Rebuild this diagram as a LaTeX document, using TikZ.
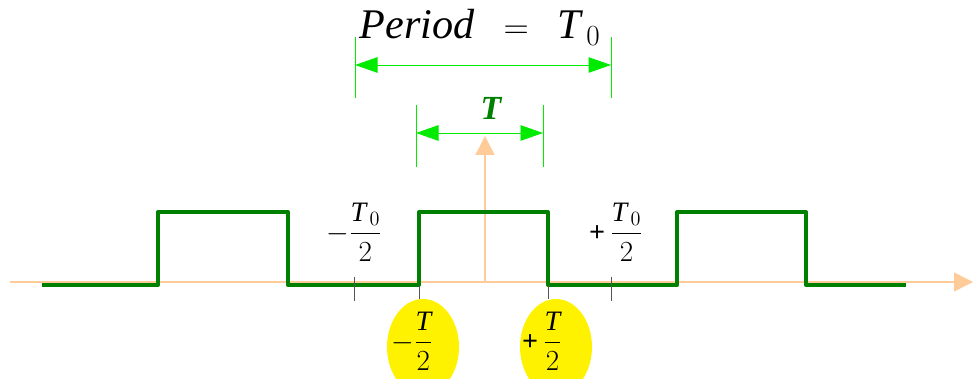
\documentclass[tikz,border=0pt]{standalone}
\usepackage{fontspec}
\setmainfont{Liberation Serif}
\usetikzlibrary{arrows.meta,positioning,shapes.geometric}

\definecolor{wavegreen}{RGB}{0,128,0}
\definecolor{dimgreen}{RGB}{0,235,0}
\definecolor{axisorange}{RGB}{255,204,153}
\definecolor{tickgray}{RGB}{85,85,85}

\tikzset{
  axis/.style={axisorange,line width=1pt,-{Triangle[length=13.5pt,width=13.5pt]}},
  dimline/.style={dimgreen,line width=0.7pt},
  dimarrow/.style={dimgreen,line width=0.7pt,
    {Triangle[length=16pt,width=11pt]}-{Triangle[length=16pt,width=11pt]}},
  tickmark/.style={tickgray,line width=0.7pt},
  wave/.style={wavegreen,line width=2.8pt,line join=round},
  halfbox/.style={ellipse,fill=yellow,minimum width=72*0.025cm,minimum height=96*0.025cm,inner sep=0pt}
}

\begin{document}
\begin{tikzpicture}[x=0.025cm,y=-0.025cm]
\useasboundingbox (0,0) rectangle (973,379);

% axes
\coordinate (xstart) at (10,282);
\coordinate (xend) at (973,282);
\coordinate (origin) at (485,282);
\coordinate (yend) at (485,136);
\draw[axis] (xstart) -- (xend);
\draw[axis] (origin) -- (yend);

% pulse train
\draw[wave] (42,285) -- (158,285) -- (158,212) -- (288,212) -- (288,285)
  -- (419,285) -- (419,212) -- (548,212) -- (548,285)
  -- (677,285) -- (677,212) -- (806,212) -- (806,285) -- (906,285);

% ticks at -T0/2 and +T0/2
\coordinate (tlow) at (354,277);
\coordinate (tlowend) at (354,301);
\coordinate (thigh) at (611,277);
\coordinate (thighend) at (611,301);
\draw[tickmark] (tlow) -- (tlowend);
\draw[tickmark] (thigh) -- (thighend);

% yellow markers for -T/2 and +T/2
\node[halfbox] (minushalf) at (423,347) {};
\node[halfbox] (plushalf) at (556,347) {};
\coordinate (edgeleft) at (419,285);
\coordinate (edgeright) at (548,285);
\draw[tickmark] (edgeleft) -- (edgeleft |- minushalf.north);
\draw[tickmark] (edgeright) -- (edgeright |- plushalf.north);
\node[font=\fontsize{20}{24}\selectfont] (minushalflabel) at (412,341)
  {$\displaystyle -\frac{\mathit{T}}{2}$};
\node[font=\fontsize{20}{24}\selectfont] (plushalflabel) at (542,341)
  {$\displaystyle \textbf{+}\,\frac{\mathit{T}}{2}$};

% period labels
\node[font=\fontsize{20}{24}\selectfont] (minusperiod) at (354,232)
  {$\displaystyle -\frac{\mathit{T}_{\,0}}{2}$};
\node[font=\fontsize{20}{24}\selectfont] (plusperiod) at (616,232)
  {$\displaystyle \textbf{+}\,\frac{\mathit{T}_{\,0}}{2}$};

% dimension: period
\coordinate (pleft) at (355,37);
\coordinate (pleftend) at (355,98);
\coordinate (pright) at (611,37);
\coordinate (prightend) at (611,98);
\draw[dimline] (pleft) -- (pleftend);
\draw[dimline] (pright) -- (prightend);
\draw[dimarrow] (355,65) -- (611,65);
\node[font=\fontsize{30}{36}\selectfont] (period) at (480,27)
  {$\mathit{Period}\;\;=\;\;\mathit{T}_{\,0}$};

% dimension: pulse width
\coordinate (wleft) at (416,105);
\coordinate (wleftend) at (416,167);
\coordinate (wright) at (543,105);
\coordinate (wrightend) at (543,167);
\draw[dimline] (wleft) -- (wleftend);
\draw[dimline] (wright) -- (wrightend);
\draw[dimarrow] (416,133) -- (543,133);
\node[wavegreen,font=\fontsize{24}{28}\selectfont\bfseries\itshape] (width) at (491,108) {T};
\end{tikzpicture}
\end{document}
